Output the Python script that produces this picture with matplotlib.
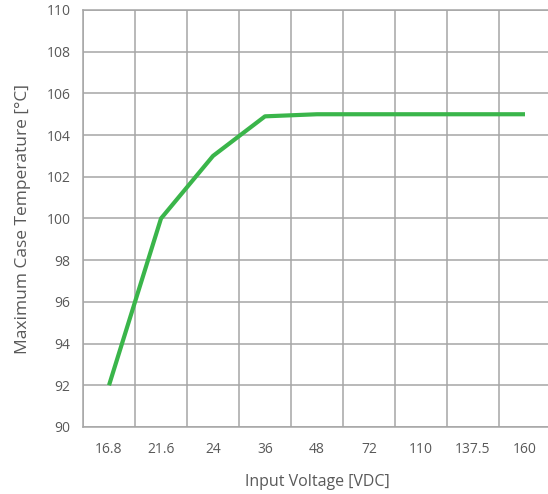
import matplotlib
matplotlib.use("Agg")
import matplotlib.pyplot as plt
import numpy as np

# data
voltages = ["16.8", "21.6", "24", "36", "48", "72", "110", "137.5", "160"]
max_case_temp = [92, 100, 103, 104.9, 105, 105, 105, 105, 105]

grid_col = "#A6A6A6"
text_col = "#595959"
line_col = "#3AB54A"

plt.rcParams['font.family'] = ['Open Sans', 'DejaVu Sans']

fig = plt.figure(figsize=(5.48, 4.94), dpi=100)
ax = fig.add_axes([83 / 548, 1 - 427 / 494, 468 / 548, 417 / 494])

x = np.arange(len(voltages))
ax.plot(x, max_case_temp, color=line_col, lw=3.0, solid_joinstyle='round',
        solid_capstyle='butt', zorder=3)

ax.set_xlim(-0.5, len(voltages) - 0.5)
ax.set_ylim(90, 110)
ax.set_yticks(np.arange(90, 111, 2))
ax.set_xticks(x)
ax.set_xticklabels(voltages)
ax.set_xticks(np.arange(-0.5, len(voltages), 1), minor=True)

ax.grid(True, which='major', axis='y', color=grid_col, lw=1.1)
ax.grid(True, which='minor', axis='x', color=grid_col, lw=1.1)
ax.tick_params(which='both', length=0, colors=text_col, labelsize=10)
ax.tick_params(axis='x', pad=11)
ax.tick_params(axis='y', pad=9)

for s in ax.spines.values():
    s.set_color(grid_col)
    s.set_linewidth(1.1)

ax.set_xlabel("Input Voltage [VDC]", color=text_col, fontsize=11.5, labelpad=12)
ax.set_ylabel("Maximum Case Temperature [°C]", color=text_col, fontsize=12.5, labelpad=11)

fig.savefig("out.png", dpi=100)
